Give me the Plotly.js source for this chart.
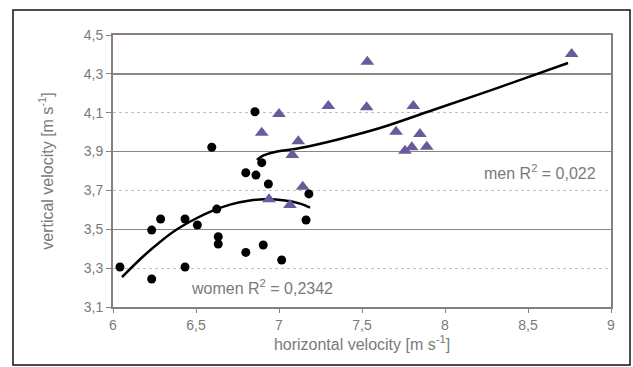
<!DOCTYPE html>
<html>
<head>
<meta charset="utf-8">
<script src="https://cdn.plot.ly/plotly-3.0.1.min.js"></script>
<style>html,body{margin:0;padding:0;background:#fff;}#chart{width:633px;height:367px;}</style>
</head>
<body>
<div id="chart"></div>
<script>
// Women (circles)
const womenX = [6.042, 6.233, 6.233, 6.287, 6.434, 6.434, 6.508, 6.595, 6.625, 6.634, 6.634, 6.855, 6.896, 6.80, 6.861, 6.936, 7.18, 7.163, 6.80, 6.905, 7.016];
const womenY = [3.306, 3.244, 3.496, 3.553, 3.306, 3.553, 3.522, 3.922, 3.604, 3.462, 3.424, 4.105, 3.843, 3.791, 3.779, 3.733, 3.682, 3.548, 3.381, 3.419, 3.342];
// Men (triangles)
const menX = [6.896, 7.00, 7.116, 7.08, 7.143, 6.94, 7.066, 7.297, 7.528, 7.532, 7.705, 7.809, 7.849, 7.759, 7.80, 7.89, 8.763];
const menY = [3.997, 4.093, 3.953, 3.882, 3.719, 3.654, 3.625, 4.134, 4.128, 4.362, 4.002, 4.134, 3.99, 3.904, 3.922, 3.925, 4.402];
// Trend lines
const womenTrendX = [6.054, 6.181, 6.283, 6.386, 6.494, 6.584, 6.705, 6.825, 6.916, 7.036, 7.127, 7.187];
const womenTrendY = [3.254, 3.36, 3.435, 3.50, 3.553, 3.59, 3.627, 3.648, 3.654, 3.648, 3.632, 3.612];
const menTrendX = [6.867, 6.898, 6.976, 7.127, 7.367, 7.608, 7.928, 8.331, 8.741];
const menTrendY = [3.857, 3.877, 3.898, 3.918, 3.965, 4.021, 4.114, 4.232, 4.356];
// Ticks
const xTickVals = [6, 6.5, 7, 7.5, 8, 8.5, 9];
const xTickText = ['6', '6,5', '7', '7,5', '8', '8,5', '9'];
const yTickVals = [3.1, 3.3, 3.5, 3.7, 3.9, 4.1, 4.3, 4.5];
const yTickText = ['3,1', '3,3', '3,5', '3,7', '3,9', '4,1', '4,3', '4,5'];
const yStrongGrid = [3.5, 3.9, 4.3];
// Labels
const menLabel = 'men R<sup>2</sup> = 0,022';
const womenLabel = 'women R<sup>2</sup> = 0,2342';
const menLabelPos = [8.572, 3.795];
const womenLabelPos = [6.898, 3.203];

const axisCol = '#8a7f78';
const textCol = '#7a7a7a';
const purple = '#6a5a9c';

const traces = [
  {x: [6], y: [3.1], mode: 'markers', marker: {opacity: 0}, yaxis: 'y2', hoverinfo: 'skip'},
  {x: womenTrendX, y: womenTrendY, mode: 'lines', line: {color: '#000', width: 2.5, shape: 'spline'}, hoverinfo: 'skip', yaxis: 'y'},
  {x: menTrendX, y: menTrendY, mode: 'lines', line: {color: '#000', width: 2.5, shape: 'spline'}, hoverinfo: 'skip', yaxis: 'y'},
  {x: menX, y: menY, mode: 'markers', marker: {symbol: 'triangle-up', size: 12, color: purple}, yaxis: 'y'},
  {x: womenX, y: womenY, mode: 'markers', marker: {symbol: 'circle', size: 9, color: '#000'}, yaxis: 'y'}
];

const layout = {
  width: 633, height: 367,
  margin: {l: 113, r: 22, t: 35, b: 60},
  paper_bgcolor: '#fff', plot_bgcolor: '#fff',
  showlegend: false,
  font: {family: 'Liberation Sans, Arial, sans-serif', size: 14, color: textCol},
  xaxis: {
    range: [6, 9], tickvals: xTickVals, ticktext: xTickText,
    showgrid: false, zeroline: false,
    showline: true, linecolor: axisCol, linewidth: 2, mirror: true,
    ticks: 'outside', ticklen: 4, tickcolor: axisCol,
    tickfont: {size: 14, color: textCol},
    title: {text: 'horizontal velocity [m s<sup>-1</sup>]', font: {size: 16, color: textCol}, standoff: 6}
  },
  yaxis: {
    range: [3.1, 4.5], tickvals: yTickVals, ticktext: yTickText,
    showgrid: true, gridcolor: '#c8bdb6', griddash: 'dot', gridwidth: 1,
    zeroline: false,
    showline: true, linecolor: axisCol, linewidth: 2, mirror: true,
    ticks: 'outside', ticklen: 5, tickcolor: axisCol,
    tickfont: {size: 14, color: textCol},
    title: {text: 'vertical velocity [m s<sup>-1</sup>]', font: {size: 16, color: textCol}, standoff: 26}
  },
  yaxis2: {
    range: [3.1, 4.5], overlaying: 'y', tickvals: yStrongGrid,
    showticklabels: false, ticks: '', showgrid: true, gridcolor: '#8f8580', gridwidth: 1.5,
    zeroline: false, showline: false
  },
  annotations: [
    {x: menLabelPos[0], y: menLabelPos[1], xref: 'x', yref: 'y', text: menLabel, showarrow: false, font: {size: 16, color: textCol}},
    {x: womenLabelPos[0], y: womenLabelPos[1], xref: 'x', yref: 'y', text: womenLabel, showarrow: false, font: {size: 16, color: textCol}}
  ],
  shapes: [
    {type: 'rect', xref: 'paper', yref: 'paper', x0: -0.2008, x1: 1.0382, y0: -0.2132, y1: 1.0919, line: {color: '#111', width: 1.5}, layer: 'below'}
  ]
};

Plotly.newPlot('chart', traces, layout, {staticPlot: true});
</script>
</body>
</html>
